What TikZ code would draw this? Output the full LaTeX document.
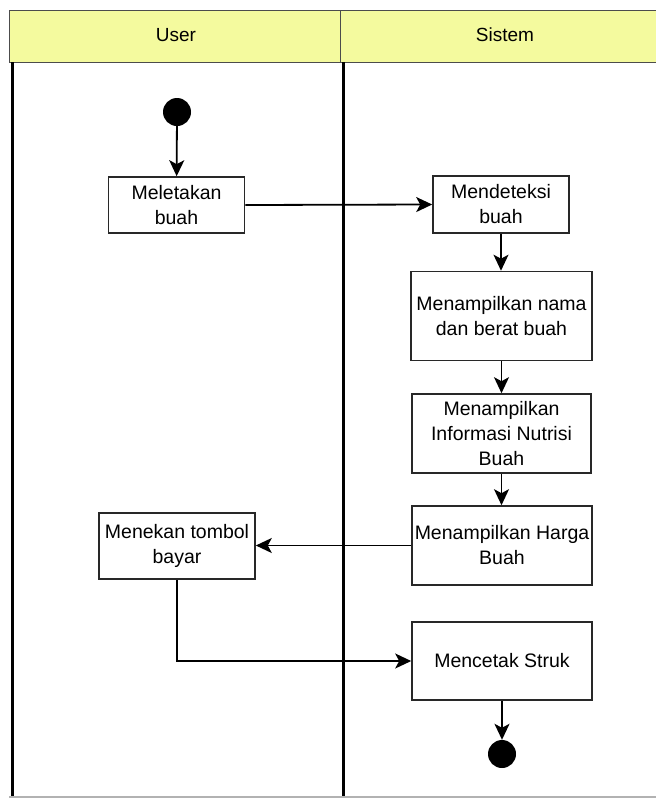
\documentclass[tikz,border=0pt]{standalone}
\usepackage{fontspec}
\setmainfont{Liberation Sans}
\usetikzlibrary{arrows.meta}
\definecolor{hdr}{RGB}{244,250,158}
\definecolor{boxline}{RGB}{40,40,40}
\tikzset{
  actbox/.style={draw=boxline, line width=1.6pt, fill=white, rectangle, align=center, inner sep=0pt, font=\fontsize{19.5}{25}\selectfont},
  lanetitle/.style={font=\fontsize{19}{23}\selectfont, inner sep=0pt},
  flow/.style={draw=black, line width=1.8pt, -{Stealth[length=16pt,width=15pt,inset=4pt]}},
  dot/.style={circle, fill=black, minimum size=28pt, inner sep=0pt},
  laneline/.style={line width=3pt, draw=black}
}
\begin{document}
\begin{tikzpicture}[x=1pt,y=-1pt]
\useasboundingbox (0,0) rectangle (656,798);
% header
\fill[hdr] (9,10) rectangle (656,62);
\draw[line width=1pt, draw=black!70] (656,10) -- (9,10) -- (9,62) -- (656,62);
\draw[line width=1pt, draw=black!70] (340,10) -- (340,62);
\node[lanetitle] (user) at (176,35) {User};
\node[lanetitle] (sistem) at (505,35) {Sistem};
% lane borders
\draw[laneline] (12,62) -- (12,797);
\draw[laneline] (343,62) -- (343,797);
\draw[line width=1.2pt, draw=black!30] (9,797) -- (656,797);
% nodes
\node[dot] (start) at (177,112) {};
\node[actbox, minimum width=136pt, minimum height=56pt] (meletakan) at (176.5,205) {Meletakan\\buah};
\node[actbox, minimum width=136pt, minimum height=57pt] (mendeteksi) at (501,204.5) {Mendeteksi\\buah};
\node[actbox, minimum width=181pt, minimum height=89pt] (nama) at (501.5,316) {Menampilkan nama\\dan berat buah};
\node[actbox, minimum width=179pt, minimum height=79pt] (nutrisi) at (501.5,433.5) {Menampilkan\\Informasi Nutrisi\\Buah};
\node[actbox, minimum width=180pt, minimum height=79pt] (harga) at (502,545.5) {Menampilkan Harga\\Buah};
\node[actbox, minimum width=156pt, minimum height=66pt] (menekan) at (177,546) {Menekan tombol\\bayar};
\node[actbox, minimum width=180pt, minimum height=78pt] (mencetak) at (502,661) {Mencetak Struk};
\node[dot] (end) at (502,754) {};
% connectors
\draw[flow] (start) -- (meletakan);
\draw[flow] (meletakan.east) -- (mendeteksi.west);
\draw[flow] (mendeteksi.south) -- (mendeteksi.south |- nama.north);
\draw[flow] (nama.south) -- (nama.south |- nutrisi.north);
\draw[flow] (nutrisi.south) -- (nutrisi.south |- harga.north);
\draw[flow] (harga.west) -- (harga.west -| menekan.east);
\draw[flow] (menekan.south) |- (mencetak.west);
\draw[flow] (mencetak.south) -- (end);
\end{tikzpicture}
\end{document}
